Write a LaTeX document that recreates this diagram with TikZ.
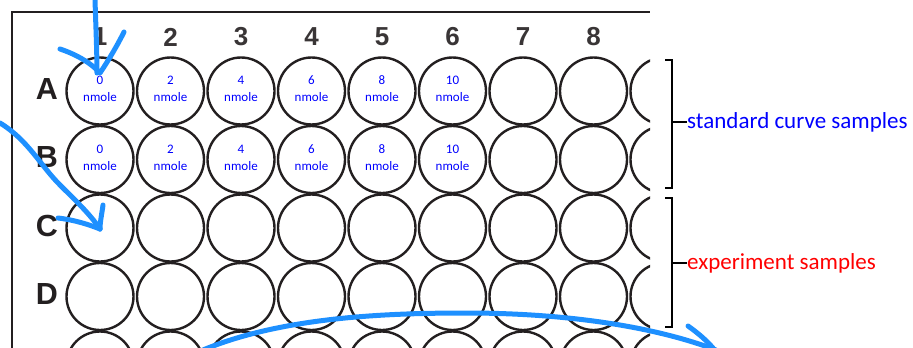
\documentclass[tikz,border=0pt]{standalone}
\usepackage{fontspec}
\setmainfont{Liberation Sans}
\newfontfamily\calfont{Carlito}
\definecolor{pen}{RGB}{30,144,255}
\definecolor{wellgray}{RGB}{35,31,32}
\begin{document}
\begin{tikzpicture}[x=1pt,y=-1pt,
  well/.style={circle,draw=wellgray,line width=2.4pt,minimum size=67pt,inner sep=0pt},
  wtext/.style={text=blue,font=\calfont\fontsize{13}{17}\selectfont,align=center,inner sep=0pt},
  colnum/.style={font=\bfseries\fontsize{26}{30}\selectfont,text=wellgray!90!white,inner sep=0pt},
  rowlab/.style={font=\bfseries\fontsize{30.5}{32}\selectfont,text=wellgray,inner sep=0pt},
  bracketline/.style={line width=2pt,draw=black},
  penstroke/.style={draw=pen,line width=5pt,line cap=round,line join=round},
  note/.style={font=\calfont\fontsize{23}{26}\selectfont,anchor=west,inner sep=0pt}]
\useasboundingbox (0,0) rectangle (913,348);
\begin{scope}
  \clip (0,0) rectangle (650,348);
  \foreach \r [count=\ri from 0] in {A,B,C,D,E}
    \foreach \c in {1,...,9}
      \node[well] (w-\r-\c) at ({100+70.5*(\c-1)},{91+68.5*\ri}) {};
\end{scope}
% plate frame
\draw[line width=2.4pt,wellgray] (12,348) -- (12,12) -- (650,12);
% column numbers
\foreach \c in {1,...,8}
  \node[colnum] (col-\c) at ({100+70.5*(\c-1)},37) {\c};
% row labels
\foreach \r [count=\ri from 0] in {A,B,C,D}
  \node[rowlab] (row-\r) at (47,{89+68.5*\ri}) {\r};
% well texts
\foreach \r in {A,B}
  \foreach \c/\v in {1/0,2/2,3/4,4/6,5/8,6/10}
    \node[wtext] (t-\r-\c) at ([yshift=2pt]w-\r-\c.center) {\v\\nmole};
% labels and brackets
\node[note,text=blue] (std) at (687,122) {standard curve samples};
\node[note,text=red] (exp) at (687,263) {experiment samples};
\draw[bracketline] (665,60) -- (672,60) -- (672,188) -- (665,188);
\draw[bracketline] (672,122) -- (std.west);
\draw[bracketline] (665,198) -- (672,198) -- (672,327) -- (665,327);
\draw[bracketline] (672,263) -- (exp.west);
% hand-drawn pen strokes
\draw[penstroke] (95,0) .. controls (96,30) and (97,55) .. (97,73);
\draw[penstroke] (60,49) .. controls (78,55) and (92,64) .. (100,73)
  .. controls (110,58) and (118,44) .. (124,32);
\draw[penstroke] (0,123) .. controls (28,140) and (40,165) .. (60,185)
  .. controls (75,200) and (90,214) .. (100,229);
\draw[penstroke] (103,205) .. controls (102,213) and (100,222) .. (100,229);
\draw[penstroke] (58,218) .. controls (75,220) and (90,225) .. (100,229);
\draw[penstroke] (203,350) .. controls (280,318) and (380,313) .. (466,313)
  .. controls (560,313) and (650,325) .. (716,350);
\draw[penstroke] (688,326) .. controls (698,333) and (706,340) .. (713,348);
\end{tikzpicture}
\end{document}
